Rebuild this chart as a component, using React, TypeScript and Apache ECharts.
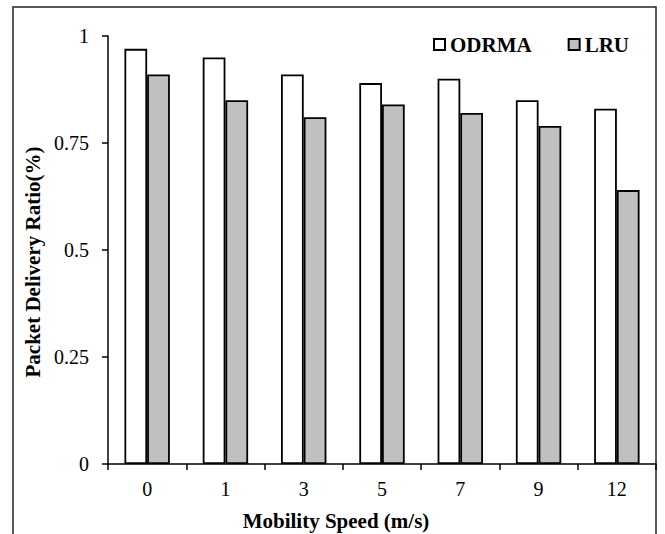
import React, { useEffect, useRef } from "react";
import * as echarts from "echarts";

const categories = ["0", "1", "3", "5", "7", "9", "12"];
const odrma = [0.97, 0.95, 0.91, 0.89, 0.9, 0.85, 0.83];
const lru = [0.91, 0.85, 0.81, 0.84, 0.82, 0.79, 0.64];
const seriesNames = ["ODRMA", "LRU"];
const xTitle = "Mobility Speed (m/s)";
const yTitle = "Packet Delivery Ratio(%)";

const FONT = "'Liberation Serif', 'Times New Roman', serif";

export default function App() {
  const ref = useRef<HTMLDivElement>(null);
  useEffect(() => {
    if (!ref.current) return;
    const chart = echarts.init(ref.current, undefined, { renderer: "svg" });
    chart.setOption({
      animation: false,
      backgroundColor: "#ffffff",
      textStyle: { fontFamily: FONT, color: "#000" },
      graphic: [
        {
          type: "rect",
          shape: { x: 13, y: 7, width: 643, height: 600 },
          style: { fill: "none", stroke: "#222", lineWidth: 1.5 },
          z: -1,
        },
        {
          type: "text",
          x: 336,
          y: 521,
          style: {
            text: xTitle,
            fontFamily: FONT,
            fontSize: 21,
            fontWeight: "bold",
            fill: "#000",
            textAlign: "center",
            textVerticalAlign: "middle",
          },
        },
        {
          type: "text",
          x: 33,
          y: 262,
          rotation: Math.PI / 2,
          style: {
            text: yTitle,
            fontFamily: FONT,
            fontSize: 21,
            fontWeight: "bold",
            fill: "#000",
            textAlign: "center",
            textVerticalAlign: "middle",
          },
        },
      ],
      legend: {
        left: 433,
        top: 34,
        padding: 0,
        itemWidth: 11,
        itemHeight: 11,
        itemGap: 36,
        icon: "rect",
        textStyle: { fontFamily: FONT, fontSize: 21, fontWeight: "bold", color: "#000" },
        data: seriesNames,
      },
      grid: { left: 108, right: 9, top: 36, bottom: 70, containLabel: false },
      xAxis: {
        type: "category",
        data: categories,
        axisLine: { lineStyle: { color: "#000", width: 1.5 } },
        axisTick: { show: true, length: 6, inside: false, lineStyle: { color: "#000", width: 1.5 } },
        axisLabel: { fontFamily: FONT, fontSize: 20, color: "#000", margin: 15 },
      },
      yAxis: {
        type: "value",
        min: 0,
        max: 1,
        interval: 0.25,
        axisLine: { show: true, lineStyle: { color: "#000", width: 1.5 } },
        axisTick: { show: true, length: 6, lineStyle: { color: "#000", width: 1.5 } },
        axisLabel: { fontFamily: FONT, fontSize: 20, color: "#000", margin: 19 },
        splitLine: { show: false },
      },
      series: [
        {
          name: seriesNames[0],
          type: "bar",
          data: odrma,
          barGap: "0%",
          barCategoryGap: "42%",
          itemStyle: { color: "#ffffff", borderColor: "#000", borderWidth: 1.8 },
        },
        {
          name: seriesNames[1],
          type: "bar",
          data: lru,
          barGap: "0%",
          barCategoryGap: "42%",
          itemStyle: { color: "#c0c0c0", borderColor: "#000", borderWidth: 1.8 },
        },
      ],
    });
    return () => chart.dispose();
  }, []);
  return (
    <div
      ref={ref}
      style={{ position: "absolute", left: 0, top: 0, width: 665, height: 534 }}
    />
  );
}
